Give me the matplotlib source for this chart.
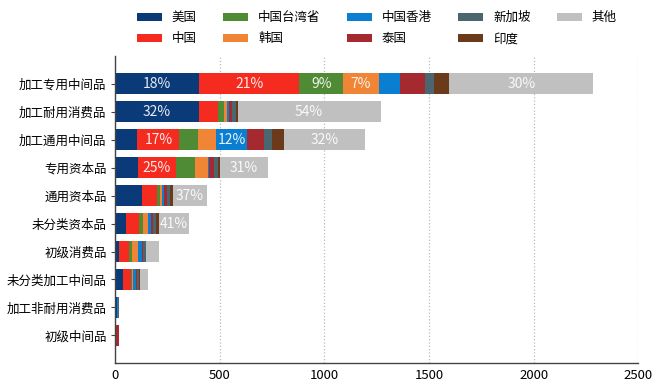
import numpy as np
import matplotlib
matplotlib.use('Agg')
import matplotlib.pyplot as plt

plt.rcParams['font.family'] = ['Noto Sans CJK SC', 'DejaVu Sans']

categories = ['加工专用中间品', '加工耐用消费品', '加工通用中间品', '专用资本品', '通用资本品',
              '未分类资本品', '初级消费品', '未分类加工中间品', '加工非耐用消费品', '初级中间品']
series = ['美国', '中国', '中国台湾省', '韩国', '中国香港', '泰国', '新加坡', '印度', '其他']

us        = [403, 403, 107, 108, 131, 51, 19, 37, 10, 0]
china     = [478, 91, 201, 182, 72, 65, 46, 38, 0, 0]
taiwan    = [209, 27, 88, 92, 13, 19, 16, 6, 0, 0]
korea     = [169, 13, 88, 64, 11, 21, 29, 6, 0, 0]
hongkong  = [105, 11, 146, 4, 5, 14, 18, 13, 3, 0]
thailand  = [115, 15, 80, 22, 18, 14, 4, 6, 0, 17]
singapore = [45, 16, 40, 20, 15, 14, 15, 10, 6, 0]
india     = [73, 10, 59, 12, 12, 12, 0, 3, 0, 2]
other     = [688, 683, 384, 225, 162, 145, 62, 37, 0, 0]

# which segments get a share label: (category index, series index)
labeled = [(0, 0), (0, 1), (0, 2), (0, 3), (0, 8),
           (1, 0), (1, 8),
           (2, 1), (2, 4), (2, 8),
           (3, 1), (3, 8),
           (4, 8), (5, 8)]

colors = ['#0b3a78', '#f52b1f', '#4f8a35', '#ef8535', '#0a7fd2', '#a52a2f', '#4a6770', '#6a3a1a', '#c0c0c0']

data = np.array([us, china, taiwan, korea, hongkong, thailand, singapore, india, other], dtype=float)
totals = data.sum(axis=0)

fig = plt.figure(figsize=(6.6, 3.9), dpi=100)
ax = fig.add_axes([0.1742, 0.0685, 0.7929, 0.788])

y = np.arange(len(categories))
left = np.zeros(len(categories))
for i, name in enumerate(series):
    ax.barh(y, data[i], left=left, height=0.75, color=colors[i], label=name)
    for (c, s) in labeled:
        if s == i:
            ax.text(left[c] + data[i][c] / 2, y[c], '%d%%' % round(data[i][c] / totals[c] * 100),
                    ha='center', va='center', color='white', alpha=0.9, fontsize=10)
    left += data[i]

ax.set_yticks(y)
ax.set_yticklabels(categories, fontsize=9)
ax.set_ylim(len(categories), -1.0)
ax.set_xlim(0, 2500)
ax.set_xticks([0, 500, 1000, 1500, 2000, 2500])
ax.tick_params(axis='x', labelsize=9.5, length=0, pad=4)
ax.tick_params(axis='y', length=3, color='#444444', pad=3)

ax.grid(axis='x', linestyle=':', color='#bbbbbb', linewidth=0.9)
ax.set_axisbelow(True)
for side in ['top', 'right']:
    ax.spines[side].set_visible(False)
for side in ['left', 'bottom']:
    ax.spines[side].set_color('#444444')
    ax.spines[side].set_linewidth(1.0)

fig.legend(loc='upper center', bbox_to_anchor=(0.571, 1.0), ncol=5, frameon=False,
           fontsize=9, handlelength=2.0, handleheight=0.7, handletextpad=0.8,
           columnspacing=2.1, labelspacing=0.65)

plt.savefig('out.png', dpi=100)
